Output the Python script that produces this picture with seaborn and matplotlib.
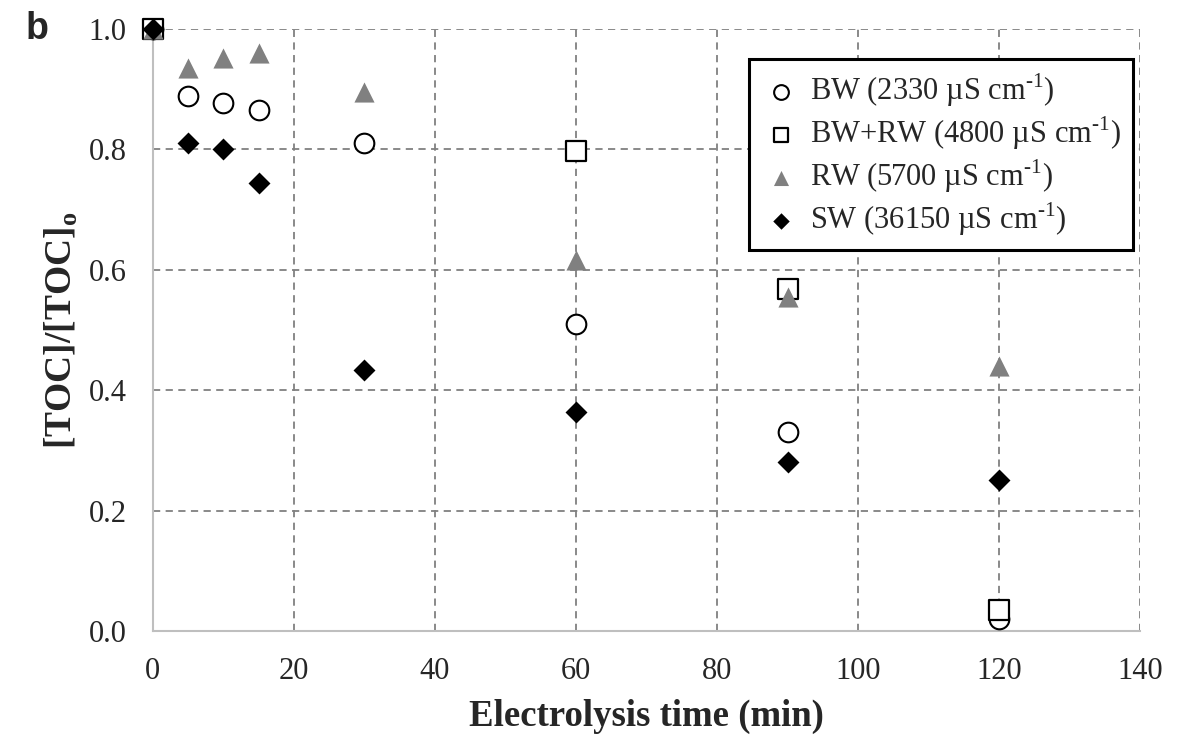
import matplotlib
matplotlib.use("Agg")
import matplotlib.pyplot as plt
import seaborn as sns
import pandas as pd

sns.set_theme(style="white")
plt.rcParams['font.family'] = ['Liberation Serif', 'DejaVu Serif']
plt.rcParams['mathtext.fontset'] = 'custom'
plt.rcParams['mathtext.rm'] = 'Liberation Serif'
plt.rcParams['mathtext.bf'] = 'Liberation Serif:bold'

# Data
bw_time = [0, 5, 10, 15, 30, 60, 90, 120]
bw_toc = [1.0, 0.889, 0.877, 0.865, 0.811, 0.510, 0.330, 0.020]
bwrw_time = [0, 60, 90, 120]
bwrw_toc = [1.0, 0.797, 0.568, 0.035]
rw_time = [0, 5, 10, 15, 30, 60, 90, 120]
rw_toc = [1.0, 0.935, 0.952, 0.960, 0.895, 0.617, 0.555, 0.440]
sw_time = [0, 5, 10, 15, 30, 60, 90, 120]
sw_toc = [1.0, 0.810, 0.801, 0.745, 0.434, 0.363, 0.280, 0.250]

labels = ["BW (2330 µS cm$^{\\text{-1}}$)",
          "BW+RW (4800 µS cm$^{\\text{-1}}$)",
          "RW (5700 µS cm$^{\\text{-1}}$)",
          "SW (36150 µS cm$^{\\text{-1}}$)"]

fig = plt.figure(figsize=(11.94, 7.36), dpi=100)
ax = fig.add_axes([0.128, 0.1427, 0.827, 0.8179])

series = [
    (bw_time, bw_toc, labels[0], dict(marker='o', s=200, facecolor='white', edgecolor='black', linewidth=1.5)),
    (bwrw_time, bwrw_toc, labels[1], dict(marker='s', s=190, facecolor='white', edgecolor='black', linewidth=1.6)),
    (rw_time, rw_toc, labels[2], dict(marker='^', s=210, facecolor='#808080', edgecolor='#808080', linewidth=0)),
    (sw_time, sw_toc, labels[3], dict(marker='D', s=125, facecolor='black', edgecolor='black', linewidth=0)),
]
for t, v, lab, kw in series:
    df = pd.DataFrame({"time": t, "toc": v})
    sns.scatterplot(data=df, x="time", y="toc", ax=ax, label=lab, zorder=3, clip_on=False, **kw)

ax.set_xlim(0, 140)
ax.set_ylim(0, 1.0)
ax.set_xticks(range(0, 141, 20))
ax.set_yticks([0, 0.2, 0.4, 0.6, 0.8, 1.0])
ax.set_yticklabels([f"{v:.1f}" for v in [0, 0.2, 0.4, 0.6, 0.8, 1.0]])
ax.tick_params(axis='both', length=0, labelsize=22)
ax.tick_params(axis='x', pad=19)
ax.tick_params(axis='y', pad=19)
ax.grid(True, color='#808080', linestyle=(0, (4, 3)), linewidth=1.3)
ax.set_axisbelow(True)
for side in ['top', 'right']:
    ax.spines[side].set_visible(False)
for side in ['left', 'bottom']:
    ax.spines[side].set_color('#bfbfbf')
    ax.spines[side].set_linewidth(1.5)
    ax.spines[side].set_zorder(2)

ax.set_xlabel("Electrolysis time (min)", fontsize=26.5, fontweight='bold', labelpad=9)
ax.set_ylabel("[TOC]/[TOC]$_{\\mathbf{o}}$", fontsize=27, fontweight='bold', labelpad=6)

leg = ax.legend(loc='upper right', bbox_to_anchor=(0.993, 0.95), fontsize=22, frameon=True,
                fancybox=False, shadow=False, edgecolor='black', framealpha=1,
                handletextpad=0.3, borderpad=0.4, labelspacing=0.18, handlelength=1.3,
                borderaxespad=0, markerscale=0.75)
leg.get_frame().set_linewidth(2.2)

fig.text(0.021, 0.947, "b", fontsize=27, fontweight='bold', family='Liberation Sans')

fig.savefig("out.png", dpi=100)
